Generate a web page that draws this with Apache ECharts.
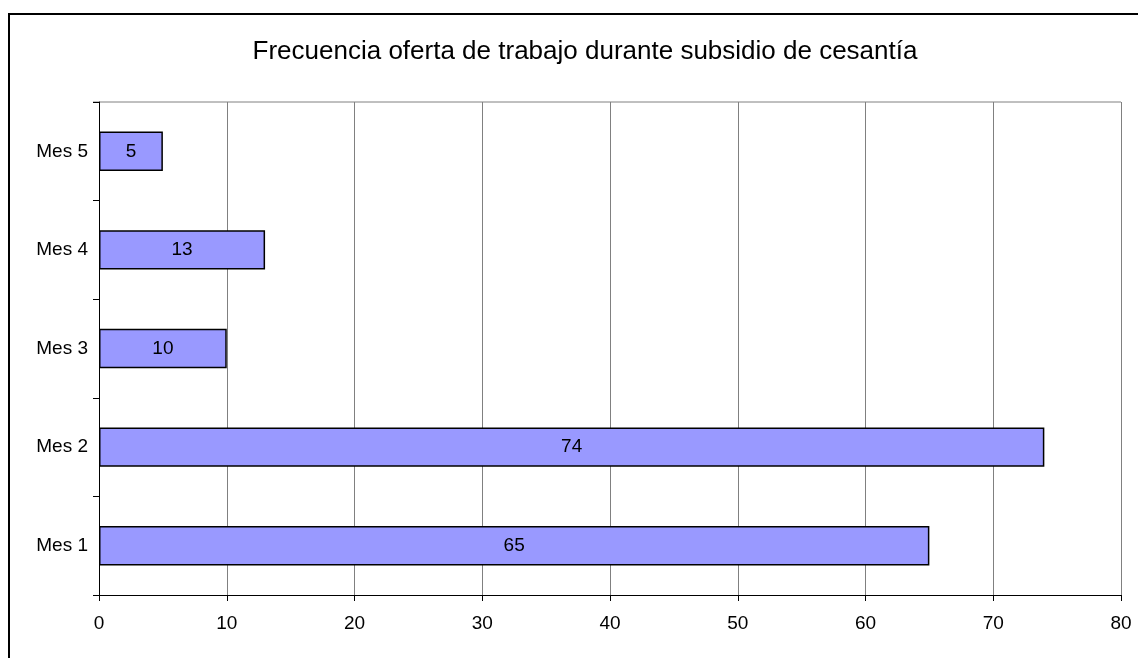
<!DOCTYPE html>
<html><head><meta charset="utf-8">
<script src="https://cdn.jsdelivr.net/npm/echarts@6/dist/echarts.min.js"></script>
<style>html,body{margin:0;padding:0;background:#fff}#c{width:1138px;height:658px}</style>
</head><body><div id="c"></div>
<script>
const categories = ['Mes 1', 'Mes 2', 'Mes 3', 'Mes 4', 'Mes 5'];
const values = [65, 74, 10, 13, 5];
const titleText = 'Frecuencia oferta de trabajo durante subsidio de cesantía';

const FONT = 'Liberation Sans, Arial';
const chart = echarts.init(document.getElementById('c'));
chart.setOption({
  animation: false,
  backgroundColor: '#fff',
  title: {
    text: titleText, left: 580, textAlign: 'center', top: 34,
    textStyle: { fontFamily: FONT, fontSize: 26, fontWeight: 'normal', color: '#000' }
  },
  graphic: [{
    type: 'rect', shape: { x: 9, y: 14, width: 1200, height: 700 },
    style: { fill: 'none', stroke: '#000', lineWidth: 2 }, silent: true
  }, {
    type: 'line', shape: { x1: 93, y1: 102, x2: 1121, y2: 102 },
    style: { stroke: '#808080', lineWidth: 1 }, silent: true
  }],
  grid: { left: 99, right: 17, top: 102, bottom: 63, containLabel: false },
  xAxis: {
    type: 'value', min: 0, max: 80, interval: 10,
    axisLine: { show: true, lineStyle: { color: '#000', width: 1 } },
    axisTick: { show: true, length: 6, lineStyle: { color: '#000' } },
    axisLabel: { fontFamily: FONT, fontSize: 19, color: '#000', margin: 19 },
    splitLine: { show: true, lineStyle: { color: '#808080', width: 1 } }
  },
  yAxis: {
    type: 'category', data: categories,
    axisLine: { show: true, lineStyle: { color: '#000', width: 1 } },
    axisTick: { show: true, length: 6, lineStyle: { color: '#000' } },
    axisLabel: { fontFamily: FONT, fontSize: 19, color: '#000', margin: 11 }
  },
  series: [{
    type: 'bar', data: values, barCategoryGap: '60%',
    itemStyle: { color: '#9999FF', borderColor: '#000', borderWidth: 1.5 },
    label: { show: true, position: 'inside', fontFamily: FONT, fontSize: 19, color: '#000' }
  }]
});
</script></body></html>
